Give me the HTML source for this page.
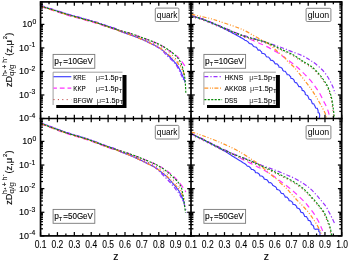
<!DOCTYPE html>
<html><head><meta charset="utf-8"><title>chart</title>
<style>html,body{margin:0;padding:0;background:#fff;}body{width:349px;height:264px;overflow:hidden;position:relative;font-family:"Liberation Sans",sans-serif;}</style></head>
<body>
<svg width="349" height="264" viewBox="0 0 349 264" style="position:absolute;left:0;top:0;font-family:'Liberation Sans',sans-serif;will-change:transform;opacity:0.999" shape-rendering="auto">
<rect width="349" height="264" fill="#fff"/>
<defs><clipPath id="cTL"><rect x="40.55" y="1.9" width="150.45" height="116.6"/></clipPath><clipPath id="cTR"><rect x="191.0" y="1.9" width="150.7" height="116.6"/></clipPath><clipPath id="cBL"><rect x="40.55" y="118.5" width="150.45" height="117.4"/></clipPath><clipPath id="cBR"><rect x="191.0" y="118.5" width="150.7" height="117.4"/></clipPath></defs>
<g clip-path="url(#cTL)" fill="none" stroke-linecap="butt" stroke-linejoin="round"><path d="M40.60,5.75 C42.55,6.37 47.95,8.07 52.30,9.45 C56.65,10.83 61.92,12.62 66.70,14.05 C71.48,15.48 77.45,17.05 81.00,18.05 C84.55,19.05 85.42,19.32 88.00,20.05 C90.58,20.78 93.18,21.40 96.50,22.45 C99.82,23.50 104.82,25.32 107.90,26.35 C110.98,27.38 112.98,27.84 115.00,28.65 C117.02,29.46 117.25,30.11 120.00,31.20 C122.75,32.29 127.68,33.77 131.50,35.20 C135.32,36.63 139.45,38.30 142.90,39.80 C146.35,41.30 149.22,42.68 152.20,44.20 C155.18,45.72 158.18,47.10 160.80,48.90 C163.42,50.70 165.65,52.85 167.90,55.00 C170.15,57.15 172.88,60.27 174.30,61.80 C175.72,63.33 175.40,62.75 176.40,64.20 C177.40,65.65 179.17,68.32 180.30,70.50 C181.43,72.68 182.37,75.38 183.20,77.30 C184.03,79.22 184.95,81.22 185.30,82.00" stroke="#3c3cff" stroke-width="1.15"/><path d="M40.60,6.55 C42.55,7.17 47.95,8.87 52.30,10.25 C56.65,11.63 61.92,13.42 66.70,14.85 C71.48,16.28 77.45,17.85 81.00,18.85 C84.55,19.85 85.42,20.12 88.00,20.85 C90.58,21.58 93.18,22.20 96.50,23.25 C99.82,24.30 104.82,26.12 107.90,27.15 C110.98,28.18 112.98,28.89 115.00,29.45 C117.02,30.01 117.25,29.79 120.00,30.50 C122.75,31.21 127.68,32.47 131.50,33.70 C135.32,34.93 139.45,36.62 142.90,37.90 C146.35,39.18 149.22,40.22 152.20,41.40 C155.18,42.58 157.92,43.38 160.80,45.00 C163.68,46.62 166.90,49.32 169.50,51.10 C172.10,52.88 174.32,53.90 176.40,55.70 C178.48,57.50 180.40,59.92 182.00,61.90 C183.60,63.88 185.33,66.65 186.00,67.60" stroke="#ff33ff" stroke-width="1.2" stroke-dasharray="5.3 3.7"/><path d="M40.60,6.35 C42.55,6.97 47.95,8.67 52.30,10.05 C56.65,11.43 61.92,13.22 66.70,14.65 C71.48,16.08 77.45,17.65 81.00,18.65 C84.55,19.65 85.42,19.92 88.00,20.65 C90.58,21.38 93.18,22.00 96.50,23.05 C99.82,24.10 104.82,25.92 107.90,26.95 C110.98,27.98 112.98,28.59 115.00,29.25 C117.02,29.91 117.25,30.01 120.00,30.90 C122.75,31.79 127.68,33.25 131.50,34.60 C135.32,35.95 139.45,37.60 142.90,39.00 C146.35,40.40 149.22,41.73 152.20,43.00 C155.18,44.27 157.67,44.77 160.80,46.60 C163.93,48.43 168.13,51.52 171.00,54.00 C173.87,56.48 176.17,59.08 178.00,61.50 C179.83,63.92 180.97,66.08 182.00,68.50 C183.03,70.92 183.83,74.75 184.20,76.00" stroke="#b01818" stroke-width="0.9" stroke-dasharray="1 3.4"/><path d="M40.60,5.45 C42.55,6.07 47.95,7.77 52.30,9.15 C56.65,10.53 61.92,12.32 66.70,13.75 C71.48,15.18 77.45,16.75 81.00,17.75 C84.55,18.75 85.42,19.02 88.00,19.75 C90.58,20.48 93.18,21.10 96.50,22.15 C99.82,23.20 104.82,25.02 107.90,26.05 C110.98,27.08 112.98,27.49 115.00,28.35 C117.02,29.21 117.25,30.06 120.00,31.20 C122.75,32.34 127.68,33.77 131.50,35.20 C135.32,36.63 139.45,38.30 142.90,39.80 C146.35,41.30 149.22,42.63 152.20,44.20 C155.18,45.77 158.67,47.63 160.80,49.20 C162.93,50.77 163.17,51.77 165.00,53.60 C166.83,55.43 169.90,58.25 171.80,60.20 C173.70,62.15 174.98,63.22 176.40,65.30 C177.82,67.38 179.27,70.62 180.30,72.70 C181.33,74.78 181.85,76.17 182.60,77.80 C183.35,79.43 184.43,81.72 184.80,82.50" stroke="#9933ff" stroke-width="1.2" stroke-dasharray="4.2 2 1.2 2"/><path d="M40.60,6.20 C42.55,6.82 47.95,8.52 52.30,9.90 C56.65,11.28 61.92,13.07 66.70,14.50 C71.48,15.93 77.45,17.50 81.00,18.50 C84.55,19.50 85.42,19.77 88.00,20.50 C90.58,21.23 93.18,21.85 96.50,22.90 C99.82,23.95 104.82,25.77 107.90,26.80 C110.98,27.83 112.98,28.37 115.00,29.10 C117.02,29.83 117.25,30.18 120.00,31.20 C122.75,32.22 127.68,33.77 131.50,35.20 C135.32,36.63 139.45,38.30 142.90,39.80 C146.35,41.30 149.22,42.73 152.20,44.20 C155.18,45.67 158.67,47.30 160.80,48.60 C162.93,49.90 163.35,50.72 165.00,52.00 C166.65,53.28 168.80,54.73 170.70,56.30 C172.60,57.87 174.52,59.23 176.40,61.40 C178.28,63.57 180.58,66.93 182.00,69.30 C183.42,71.67 184.42,74.55 184.90,75.60" stroke="#ff9426" stroke-width="1.2" stroke-dasharray="4 1.8 1 1.8 1 1.8"/><path d="M40.60,6.00 C42.55,6.62 47.95,8.32 52.30,9.70 C56.65,11.08 61.92,12.87 66.70,14.30 C71.48,15.73 77.45,17.30 81.00,18.30 C84.55,19.30 85.42,19.57 88.00,20.30 C90.58,21.03 93.18,21.65 96.50,22.70 C99.82,23.75 104.82,25.57 107.90,26.60 C110.98,27.63 112.98,28.25 115.00,28.90 C117.02,29.55 117.25,29.70 120.00,30.50 C122.75,31.30 127.68,32.47 131.50,33.70 C135.32,34.93 139.45,36.62 142.90,37.90 C146.35,39.18 149.22,40.18 152.20,41.40 C155.18,42.62 157.53,43.38 160.80,45.20 C164.07,47.02 168.83,49.98 171.80,52.30 C174.77,54.62 176.90,56.83 178.60,59.10 C180.30,61.37 181.13,63.63 182.00,65.90 C182.87,68.17 183.32,70.52 183.80,72.70 C184.28,74.88 184.62,76.78 184.90,79.00 C185.18,81.22 185.35,83.67 185.50,86.00 C185.65,88.33 185.75,91.83 185.80,93.00" stroke="#0a8a0a" stroke-width="1.15" stroke-dasharray="2.1 1.4"/></g>
<g clip-path="url(#cTR)" fill="none" stroke-linecap="butt" stroke-linejoin="round"><path d="M191.40,15.90 L192.09,16.10 L192.95,16.34 L193.96,16.61 L195.11,16.93 L196.37,17.29 L197.73,17.70 L199.16,18.15 L200.66,18.65 L202.20,19.20 L203.16,19.56 L204.17,19.94 L205.23,20.35 L206.33,20.77 L207.46,21.22 L208.62,21.68 L209.80,22.16 L211.00,22.65 L212.21,23.15 L213.43,23.66 L214.65,24.18 L215.86,24.70 L217.06,25.23 L218.24,25.77 L219.40,26.30 L220.49,26.81 L221.61,27.35 L222.75,27.92 L223.91,28.49 L225.07,29.09 L226.24,29.69 L227.40,30.29 L228.55,30.89 L229.68,31.49 L230.79,32.08 L231.87,32.66 L232.92,33.22 L233.92,33.76 L234.87,34.27 L235.77,34.75 L236.60,35.20 L238.09,36.01 L239.40,36.72 L240.53,37.38 L241.60,37.91 L242.52,38.45 L243.39,38.95 L244.14,39.53 L244.81,40.19 L246.34,40.63 L247.31,41.34 L248.21,41.97 L248.80,42.92 L249.81,43.59 L251.37,43.88 L252.37,44.79 L253.15,45.96 L254.31,46.78 L256.04,47.06 L256.84,47.96 L257.49,49.03 L258.13,50.14 L259.92,50.09 L260.71,51.05 L261.62,51.88 L261.91,53.32 L263.47,53.47 L264.66,54.00 L265.49,54.88 L266.01,56.07 L266.80,57.00 L268.52,57.00 L269.26,57.97 L270.15,58.80 L270.43,60.22 L272.04,60.33 L273.18,60.92 L274.03,61.76 L274.54,62.90 L275.29,63.81 L277.04,63.76 L277.83,64.75 L278.74,65.76 L278.96,67.10 L280.48,67.25 L281.58,67.90 L282.39,68.86 L282.78,70.26 L283.71,71.08 L285.25,71.24 L285.86,72.24 L286.72,73.38 L287.21,74.77 L289.02,74.78 L289.80,75.80 L290.67,76.75 L290.93,78.37 L292.47,78.53 L293.43,79.32 L294.20,80.34 L294.46,81.85 L295.42,82.63 L296.82,82.91 L297.36,83.94 L298.15,85.19 L298.71,86.56 L300.47,86.61 L301.16,87.65 L301.93,88.57 L302.10,90.32 L303.56,90.61 L304.38,91.57 L305.16,92.84 L305.23,94.34 L306.28,94.98 L307.56,95.47 L308.19,96.67 L308.61,98.08 L309.21,99.29 L310.76,99.57 L311.34,100.87 L311.88,102.23 L312.29,103.67 L313.87,103.88 L314.37,105.03 L315.12,106.52 L315.65,108.04 L317.28,108.31 L317.76,109.64 L318.15,110.99 L318.08,112.67 L319.27,113.01 L319.53,114.17 L319.71,115.85 L319.24,118.00 L320.08,118.32" stroke="#3c3cff" stroke-width="1.15"/><path d="M191.40,15.60 C193.20,16.13 197.53,17.10 202.20,18.80 C206.87,20.50 213.67,23.40 219.40,25.80 C225.13,28.20 232.33,31.37 236.60,33.20 C240.87,35.03 241.82,35.38 245.00,36.80 C248.18,38.22 252.57,40.30 255.70,41.70 C258.83,43.10 261.32,44.05 263.80,45.20 C266.28,46.35 268.32,47.37 270.60,48.60 C272.88,49.83 275.43,51.30 277.50,52.60 C279.57,53.90 281.15,55.07 283.00,56.40 C284.85,57.73 286.62,59.13 288.60,60.60 C290.58,62.07 292.90,63.58 294.90,65.20 C296.90,66.82 298.68,68.50 300.60,70.30 C302.52,72.10 304.48,74.00 306.40,76.00 C308.32,78.00 310.52,80.37 312.10,82.30 C313.68,84.23 314.60,85.70 315.90,87.60 C317.20,89.50 318.67,91.53 319.90,93.70 C321.13,95.87 322.15,98.30 323.30,100.60 C324.45,102.90 325.83,105.20 326.80,107.50 C327.77,109.80 328.60,112.57 329.10,114.40 C329.60,116.23 329.68,117.82 329.80,118.50" stroke="#ff33ff" stroke-width="1.2" stroke-dasharray="5.3 3.7"/><path d="M190.90,16.70 C192.70,17.23 197.03,18.20 201.70,19.90 C206.37,21.60 213.17,24.50 218.90,26.90 C224.63,29.30 231.83,32.57 236.10,34.30 C240.37,36.03 241.07,36.23 244.50,37.30 C247.93,38.37 253.38,39.78 256.70,40.70 C260.02,41.62 261.78,41.90 264.40,42.80 C267.02,43.70 269.53,44.80 272.40,46.10 C275.27,47.40 278.75,49.27 281.60,50.60 C284.45,51.93 287.18,52.95 289.50,54.10 C291.82,55.25 293.53,56.27 295.50,57.50 C297.47,58.73 299.80,60.50 301.30,61.50 C302.80,62.50 303.02,62.60 304.50,63.50 C305.98,64.40 308.28,65.47 310.20,66.90 C312.12,68.33 314.08,70.10 316.00,72.10 C317.92,74.10 319.98,76.62 321.70,78.90 C323.42,81.18 325.15,83.78 326.30,85.80 C327.45,87.82 327.93,89.33 328.60,91.00 C329.27,92.67 329.77,93.85 330.30,95.80 C330.83,97.75 331.37,100.22 331.80,102.70 C332.23,105.18 332.58,108.32 332.90,110.70 C333.22,113.08 333.53,115.55 333.70,117.00 C333.87,118.45 333.87,119.00 333.90,119.40" stroke="#b01818" stroke-width="0.9" stroke-dasharray="1 3.4"/><path d="M191.40,15.70 C193.20,16.23 197.53,17.20 202.20,18.90 C206.87,20.60 213.67,23.55 219.40,25.90 C225.13,28.25 232.33,31.35 236.60,33.00 C240.87,34.65 241.57,34.70 245.00,35.80 C248.43,36.90 252.55,38.13 257.20,39.60 C261.85,41.07 268.37,43.10 272.90,44.60 C277.43,46.10 281.55,47.55 284.40,48.60 C287.25,49.65 286.90,49.67 290.00,50.90 C293.10,52.13 299.70,54.48 303.00,56.00 C306.30,57.52 308.13,59.00 309.80,60.00 C311.47,61.00 311.50,60.90 313.00,62.00 C314.50,63.10 316.88,64.88 318.80,66.60 C320.72,68.32 322.78,70.20 324.50,72.30 C326.22,74.40 327.77,76.90 329.10,79.20 C330.43,81.50 331.65,84.18 332.50,86.10 C333.35,88.02 333.72,89.45 334.20,90.70 C334.68,91.95 335.20,93.12 335.40,93.60" stroke="#9933ff" stroke-width="1.2" stroke-dasharray="4.2 2 1.2 2"/><path d="M191.40,14.30 C192.83,14.62 196.90,15.50 200.00,16.20 C203.10,16.90 206.77,17.63 210.00,18.50 C213.23,19.37 214.97,19.95 219.40,21.40 C223.83,22.85 232.33,25.63 236.60,27.20 C240.87,28.77 242.10,29.37 245.00,30.80 C247.90,32.23 251.25,34.27 254.00,35.80 C256.75,37.33 259.30,38.82 261.50,40.00 C263.70,41.18 265.30,41.67 267.20,42.90 C269.10,44.13 270.98,45.78 272.90,47.40 C274.82,49.02 276.78,50.97 278.70,52.60 C280.62,54.23 282.85,55.68 284.40,57.20 C285.95,58.72 286.43,60.08 288.00,61.70 C289.57,63.32 291.88,64.88 293.80,66.90 C295.72,68.92 297.60,71.42 299.50,73.80 C301.40,76.18 303.27,78.68 305.20,81.20 C307.13,83.72 309.42,86.53 311.10,88.90 C312.78,91.27 313.93,93.17 315.30,95.40 C316.67,97.63 318.05,100.10 319.30,102.30 C320.55,104.50 321.75,106.58 322.80,108.60 C323.85,110.62 325.00,112.75 325.60,114.40 C326.20,116.05 326.27,117.82 326.40,118.50" stroke="#ff9426" stroke-width="1.2" stroke-dasharray="4 1.8 1 1.8 1 1.8"/><path d="M191.40,15.80 C193.20,16.33 197.53,17.30 202.20,19.00 C206.87,20.70 213.67,23.60 219.40,26.00 C225.13,28.40 232.33,31.67 236.60,33.40 C240.87,35.13 241.57,35.33 245.00,36.40 C248.43,37.47 253.88,38.88 257.20,39.80 C260.52,40.72 262.28,41.00 264.90,41.90 C267.52,42.80 270.03,43.90 272.90,45.20 C275.77,46.50 279.25,48.37 282.10,49.70 C284.95,51.03 287.68,52.05 290.00,53.20 C292.32,54.35 294.03,55.37 296.00,56.60 C297.97,57.83 300.30,59.60 301.80,60.60 C303.30,61.60 303.52,61.70 305.00,62.60 C306.48,63.50 308.78,64.57 310.70,66.00 C312.62,67.43 314.58,69.20 316.50,71.20 C318.42,73.20 320.48,75.72 322.20,78.00 C323.92,80.28 325.65,82.88 326.80,84.90 C327.95,86.92 328.43,88.43 329.10,90.10 C329.77,91.77 330.27,92.95 330.80,94.90 C331.33,96.85 331.87,99.32 332.30,101.80 C332.73,104.28 333.08,107.42 333.40,109.80 C333.72,112.18 334.03,114.65 334.20,116.10 C334.37,117.55 334.37,118.10 334.40,118.50" stroke="#0a8a0a" stroke-width="1.15" stroke-dasharray="2.1 1.4"/></g>
<g clip-path="url(#cBL)" fill="none" stroke-linecap="butt" stroke-linejoin="round"><path d="M40.60,123.05 C42.55,123.78 47.95,125.83 52.30,127.45 C56.65,129.07 61.92,131.15 66.70,132.75 C71.48,134.35 77.45,135.97 81.00,137.05 C84.55,138.13 85.42,138.37 88.00,139.25 C90.58,140.13 93.18,141.12 96.50,142.35 C99.82,143.58 104.82,145.55 107.90,146.65 C110.98,147.75 112.98,148.14 115.00,148.95 C117.02,149.76 117.25,150.32 120.00,151.50 C122.75,152.68 127.68,154.37 131.50,156.00 C135.32,157.63 139.08,159.45 142.90,161.30 C146.72,163.15 151.43,165.38 154.40,167.10 C157.37,168.82 158.68,170.05 160.70,171.60 C162.72,173.15 164.58,174.57 166.50,176.40 C168.42,178.23 170.30,180.42 172.20,182.60 C174.10,184.78 176.52,187.60 177.90,189.50 C179.28,191.40 179.40,191.75 180.50,194.00 C181.60,196.25 183.83,201.50 184.50,203.00" stroke="#3c3cff" stroke-width="1.15"/><path d="M40.60,123.85 C42.55,124.58 47.95,126.63 52.30,128.25 C56.65,129.87 61.92,131.95 66.70,133.55 C71.48,135.15 77.45,136.77 81.00,137.85 C84.55,138.93 85.42,139.17 88.00,140.05 C90.58,140.93 93.18,141.92 96.50,143.15 C99.82,144.38 104.82,146.35 107.90,147.45 C110.98,148.55 112.98,149.21 115.00,149.75 C117.02,150.29 117.25,149.91 120.00,150.70 C122.75,151.49 127.68,153.13 131.50,154.50 C135.32,155.87 139.08,157.35 142.90,158.90 C146.72,160.45 151.43,162.48 154.40,163.80 C157.37,165.12 158.68,165.67 160.70,166.80 C162.72,167.93 164.58,169.20 166.50,170.60 C168.42,172.00 170.30,173.48 172.20,175.20 C174.10,176.92 175.98,178.70 177.90,180.90 C179.82,183.10 182.38,186.55 183.70,188.40 C185.02,190.25 185.45,191.40 185.80,192.00" stroke="#ff33ff" stroke-width="1.2" stroke-dasharray="5.3 3.7"/><path d="M40.60,123.65 C42.55,124.38 47.95,126.43 52.30,128.05 C56.65,129.67 61.92,131.75 66.70,133.35 C71.48,134.95 77.45,136.57 81.00,137.65 C84.55,138.73 85.42,138.97 88.00,139.85 C90.58,140.73 93.18,141.72 96.50,142.95 C99.82,144.18 104.82,146.15 107.90,147.25 C110.98,148.35 112.98,148.91 115.00,149.55 C117.02,150.19 117.25,150.14 120.00,151.10 C122.75,152.06 127.68,153.78 131.50,155.30 C135.32,156.82 139.08,158.48 142.90,160.20 C146.72,161.92 151.43,164.10 154.40,165.60 C157.37,167.10 158.68,167.88 160.70,169.20 C162.72,170.52 164.58,171.88 166.50,173.50 C168.42,175.12 170.30,176.98 172.20,178.90 C174.10,180.82 176.43,183.07 177.90,185.00 C179.37,186.93 179.98,188.17 181.00,190.50 C182.02,192.83 183.50,197.58 184.00,199.00" stroke="#b01818" stroke-width="0.9" stroke-dasharray="1 3.4"/><path d="M40.60,122.75 C42.55,123.48 47.95,125.53 52.30,127.15 C56.65,128.77 61.92,130.85 66.70,132.45 C71.48,134.05 77.45,135.67 81.00,136.75 C84.55,137.83 85.42,138.07 88.00,138.95 C90.58,139.83 93.18,140.82 96.50,142.05 C99.82,143.28 104.82,145.25 107.90,146.35 C110.98,147.45 112.98,147.79 115.00,148.65 C117.02,149.51 117.25,150.28 120.00,151.50 C122.75,152.72 127.68,154.37 131.50,156.00 C135.32,157.63 139.08,159.45 142.90,161.30 C146.72,163.15 151.43,165.18 154.40,167.10 C157.37,169.02 158.68,170.88 160.70,172.80 C162.72,174.72 164.58,176.58 166.50,178.60 C168.42,180.62 170.48,182.88 172.20,184.90 C173.92,186.92 175.57,189.10 176.80,190.70 C178.03,192.30 178.42,192.45 179.60,194.50 C180.78,196.55 182.77,199.97 183.90,203.00 C185.03,206.03 185.98,211.08 186.40,212.70" stroke="#9933ff" stroke-width="1.2" stroke-dasharray="4.2 2 1.2 2"/><path d="M40.60,123.50 C42.55,124.23 47.95,126.28 52.30,127.90 C56.65,129.52 61.92,131.60 66.70,133.20 C71.48,134.80 77.45,136.42 81.00,137.50 C84.55,138.58 85.42,138.82 88.00,139.70 C90.58,140.58 93.18,141.57 96.50,142.80 C99.82,144.03 104.82,146.00 107.90,147.10 C110.98,148.20 112.98,148.67 115.00,149.40 C117.02,150.13 117.25,150.40 120.00,151.50 C122.75,152.60 127.68,154.37 131.50,156.00 C135.32,157.63 139.08,159.45 142.90,161.30 C146.72,163.15 151.43,165.45 154.40,167.10 C157.37,168.75 158.68,169.75 160.70,171.20 C162.72,172.65 164.58,174.08 166.50,175.80 C168.42,177.52 170.30,179.50 172.20,181.50 C174.10,183.50 176.38,185.93 177.90,187.80 C179.42,189.67 180.10,190.50 181.30,192.70 C182.50,194.90 184.47,199.62 185.10,201.00" stroke="#ff9426" stroke-width="1.2" stroke-dasharray="4 1.8 1 1.8 1 1.8"/><path d="M40.60,123.30 C42.55,124.03 47.95,126.08 52.30,127.70 C56.65,129.32 61.92,131.40 66.70,133.00 C71.48,134.60 77.45,136.22 81.00,137.30 C84.55,138.38 85.42,138.62 88.00,139.50 C90.58,140.38 93.18,141.37 96.50,142.60 C99.82,143.83 104.82,145.80 107.90,146.90 C110.98,148.00 112.98,148.57 115.00,149.20 C117.02,149.83 117.25,149.82 120.00,150.70 C122.75,151.58 127.68,153.13 131.50,154.50 C135.32,155.87 139.08,157.35 142.90,158.90 C146.72,160.45 151.43,162.42 154.40,163.80 C157.37,165.18 158.68,165.97 160.70,167.20 C162.72,168.43 164.58,169.68 166.50,171.20 C168.42,172.72 170.30,174.50 172.20,176.30 C174.10,178.10 176.37,180.08 177.90,182.00 C179.43,183.92 180.52,185.37 181.40,187.80 C182.28,190.23 182.68,193.63 183.20,196.60 C183.72,199.57 184.12,202.92 184.50,205.60 C184.88,208.28 185.33,211.52 185.50,212.70" stroke="#0a8a0a" stroke-width="1.15" stroke-dasharray="2.1 1.4"/></g>
<g clip-path="url(#cBR)" fill="none" stroke-linecap="butt" stroke-linejoin="round"><path d="M191.40,134.00 L192.01,134.30 L192.77,134.66 L193.64,135.09 L194.64,135.57 L195.72,136.09 L196.90,136.67 L198.15,137.28 L199.46,137.92 L200.81,138.60 L202.20,139.30 L203.12,139.77 L204.11,140.27 L205.17,140.82 L206.29,141.39 L207.44,141.98 L208.63,142.59 L209.83,143.21 L211.03,143.83 L212.23,144.45 L213.41,145.06 L214.56,145.66 L215.66,146.24 L216.71,146.78 L217.69,147.30 L218.59,147.77 L219.40,148.20 L221.17,149.15 L222.53,149.89 L223.61,150.49 L224.54,151.03 L225.46,151.57 L226.50,152.20 L227.58,152.87 L228.59,153.53 L229.59,154.19 L230.63,154.89 L231.78,155.65 L233.10,156.50 L234.01,157.07 L235.02,157.69 L236.09,158.35 L237.22,159.03 L238.36,159.73 L239.51,160.43 L240.64,161.11 L241.71,161.77 L242.60,162.51 L243.58,163.02 L244.93,163.74 L245.92,164.45 L246.64,165.27 L247.40,166.08 L248.90,166.41 L250.11,167.49 L250.85,168.23 L251.34,169.36 L252.95,169.47 L254.01,170.22 L255.05,171.06 L255.45,172.60 L257.29,172.71 L258.44,173.52 L259.48,174.43 L259.88,175.96 L261.70,176.00 L262.71,176.69 L263.64,177.50 L264.05,178.85 L265.29,179.38 L266.83,179.62 L267.65,180.57 L268.34,181.61 L268.92,182.74 L270.67,182.65 L271.46,183.46 L272.29,184.16 L272.65,185.25 L274.09,186.11 L275.55,186.78 L276.50,187.79 L276.80,189.35 L278.14,189.79 L279.43,190.24 L280.18,191.22 L280.76,192.61 L281.69,193.53 L283.31,193.69 L284.01,194.74 L284.76,195.74 L285.15,197.15 L286.97,197.17 L287.81,198.17 L288.72,199.12 L289.01,200.69 L290.73,200.82 L291.73,201.67 L292.66,202.66 L292.96,204.33 L294.73,204.55 L295.73,205.46 L296.59,206.36 L296.81,207.69 L298.26,208.38 L299.34,208.84 L300.19,210.11 L300.53,211.29 L301.12,212.43 L302.83,212.60 L303.55,213.83 L304.22,215.11 L304.73,216.47 L306.45,216.60 L307.14,217.79 L307.88,218.93 L308.20,220.46 L309.86,220.57 L310.51,221.59 L311.23,222.76 L311.23,224.57 L312.47,225.02 L313.29,225.75 L313.67,226.73 L314.10,228.75 L315.35,229.35 L317.41,229.05 L318.84,229.36 L318.77,231.47 L319.97,232.33 L320.04,234.37 L319.47,236.53" stroke="#3c3cff" stroke-width="1.15"/><path d="M191.40,133.70 C193.20,134.55 197.53,136.52 202.20,138.80 C206.87,141.08 215.35,145.38 219.40,147.40 C223.45,149.42 223.90,149.63 226.50,150.90 C229.10,152.17 231.92,153.40 235.00,155.00 C238.08,156.60 241.93,158.88 245.00,160.50 C248.07,162.12 250.65,163.32 253.40,164.70 C256.15,166.08 259.02,167.45 261.50,168.80 C263.98,170.15 266.02,171.38 268.30,172.80 C270.58,174.22 273.25,175.95 275.20,177.30 C277.15,178.65 278.05,179.45 280.00,180.90 C281.95,182.35 284.80,184.38 286.90,186.00 C289.00,187.62 290.70,188.97 292.60,190.60 C294.50,192.23 296.38,193.98 298.30,195.80 C300.22,197.62 302.55,199.88 304.10,201.50 C305.65,203.12 306.13,203.73 307.60,205.50 C309.07,207.27 311.17,209.60 312.90,212.10 C314.63,214.60 316.50,217.70 318.00,220.50 C319.50,223.30 320.87,226.32 321.90,228.90 C322.93,231.48 323.82,234.82 324.20,236.00" stroke="#ff33ff" stroke-width="1.2" stroke-dasharray="5.3 3.7"/><path d="M190.90,134.80 C192.70,135.65 197.03,137.58 201.70,139.90 C206.37,142.22 214.85,146.68 218.90,148.70 C222.95,150.72 223.40,150.82 226.00,152.00 C228.60,153.18 230.58,154.20 234.50,155.80 C238.42,157.40 245.08,159.77 249.50,161.60 C253.92,163.43 257.18,165.08 261.00,166.80 C264.82,168.52 268.58,170.08 272.40,171.90 C276.22,173.72 281.57,176.53 283.90,177.70 C286.23,178.87 284.65,177.93 286.40,178.90 C288.15,179.87 291.73,181.78 294.40,183.50 C297.07,185.22 299.92,187.10 302.40,189.20 C304.88,191.30 307.20,193.90 309.30,196.10 C311.40,198.30 313.42,200.57 315.00,202.40 C316.58,204.23 317.40,205.33 318.80,207.10 C320.20,208.87 322.00,210.62 323.40,213.00 C324.80,215.38 326.13,218.72 327.20,221.40 C328.27,224.08 329.15,226.52 329.80,229.10 C330.45,231.68 330.88,235.60 331.10,236.90" stroke="#b01818" stroke-width="0.9" stroke-dasharray="1 3.4"/><path d="M191.40,133.80 C193.20,134.65 197.53,136.60 202.20,138.90 C206.87,141.20 215.35,145.62 219.40,147.60 C223.45,149.58 223.90,149.63 226.50,150.80 C229.10,151.97 231.08,153.00 235.00,154.60 C238.92,156.20 245.58,158.62 250.00,160.40 C254.42,162.18 257.68,163.82 261.50,165.30 C265.32,166.78 269.08,167.87 272.90,169.30 C276.72,170.73 280.92,172.45 284.40,173.90 C287.88,175.35 290.72,176.45 293.80,178.00 C296.88,179.55 300.23,181.48 302.90,183.20 C305.57,184.92 307.70,186.50 309.80,188.30 C311.90,190.10 313.80,192.18 315.50,194.00 C317.20,195.82 318.28,197.15 320.00,199.20 C321.72,201.25 324.18,203.93 325.80,206.30 C327.42,208.67 328.52,211.15 329.70,213.40 C330.88,215.65 332.00,217.98 332.90,219.80 C333.80,221.62 334.73,223.55 335.10,224.30" stroke="#9933ff" stroke-width="1.2" stroke-dasharray="4.2 2 1.2 2"/><path d="M191.40,132.10 C193.20,132.67 197.53,133.83 202.20,135.50 C206.87,137.17 213.93,139.80 219.40,142.10 C224.87,144.40 231.07,147.35 235.00,149.30 C238.93,151.25 240.50,152.28 243.00,153.80 C245.50,155.32 247.88,157.05 250.00,158.40 C252.12,159.75 253.78,160.55 255.70,161.90 C257.62,163.25 259.58,164.88 261.50,166.50 C263.42,168.12 265.30,169.98 267.20,171.60 C269.10,173.22 270.98,174.67 272.90,176.20 C274.82,177.73 277.52,179.73 278.70,180.80 C279.88,181.87 278.83,181.45 280.00,182.60 C281.17,183.75 283.78,185.80 285.70,187.70 C287.62,189.60 289.58,191.90 291.50,194.00 C293.42,196.10 295.32,198.30 297.20,200.30 C299.08,202.30 301.05,204.15 302.80,206.00 C304.55,207.85 306.02,209.32 307.70,211.40 C309.38,213.48 311.28,216.13 312.90,218.50 C314.52,220.87 316.12,223.33 317.40,225.60 C318.68,227.87 319.88,230.37 320.60,232.10 C321.32,233.83 321.52,235.35 321.70,236.00" stroke="#ff9426" stroke-width="1.2" stroke-dasharray="4 1.8 1 1.8 1 1.8"/><path d="M191.40,133.90 C193.20,134.75 197.53,136.68 202.20,139.00 C206.87,141.32 215.35,145.78 219.40,147.80 C223.45,149.82 223.90,149.92 226.50,151.10 C229.10,152.28 231.08,153.30 235.00,154.90 C238.92,156.50 245.58,158.87 250.00,160.70 C254.42,162.53 257.68,164.18 261.50,165.90 C265.32,167.62 269.08,169.18 272.90,171.00 C276.72,172.82 282.07,175.63 284.40,176.80 C286.73,177.97 285.15,177.03 286.90,178.00 C288.65,178.97 292.23,180.88 294.90,182.60 C297.57,184.32 300.42,186.20 302.90,188.30 C305.38,190.40 307.70,193.00 309.80,195.20 C311.90,197.40 313.92,199.67 315.50,201.50 C317.08,203.33 317.90,204.43 319.30,206.20 C320.70,207.97 322.50,209.72 323.90,212.10 C325.30,214.48 326.63,217.82 327.70,220.50 C328.77,223.18 329.65,225.62 330.30,228.20 C330.95,230.78 331.38,234.70 331.60,236.00" stroke="#0a8a0a" stroke-width="1.15" stroke-dasharray="2.1 1.4"/></g>
<g stroke="#000" stroke-width="1.7" fill="none" stroke-linecap="square">
<rect x="40.55" y="1.9" width="301.15" height="234.0"/>
<line x1="40.55" y1="118.5" x2="341.7" y2="118.5"/>
<line x1="191.0" y1="1.9" x2="191.0" y2="235.9" stroke-width="1.7"/>
</g>
<g stroke="#000" stroke-width="1.25" stroke-linecap="butt">
<line x1="40.55" y1="1.9" x2="40.55" y2="5.70"/>
<line x1="40.55" y1="114.70" x2="40.55" y2="122.30"/>
<line x1="40.55" y1="235.9" x2="40.55" y2="232.10"/>
<line x1="49.00" y1="1.9" x2="49.00" y2="4.30"/>
<line x1="49.00" y1="116.10" x2="49.00" y2="120.90"/>
<line x1="49.00" y1="235.9" x2="49.00" y2="233.50"/>
<line x1="57.44" y1="1.9" x2="57.44" y2="5.70"/>
<line x1="57.44" y1="114.70" x2="57.44" y2="122.30"/>
<line x1="57.44" y1="235.9" x2="57.44" y2="232.10"/>
<line x1="65.88" y1="1.9" x2="65.88" y2="4.30"/>
<line x1="65.88" y1="116.10" x2="65.88" y2="120.90"/>
<line x1="65.88" y1="235.9" x2="65.88" y2="233.50"/>
<line x1="74.33" y1="1.9" x2="74.33" y2="5.70"/>
<line x1="74.33" y1="114.70" x2="74.33" y2="122.30"/>
<line x1="74.33" y1="235.9" x2="74.33" y2="232.10"/>
<line x1="82.77" y1="1.9" x2="82.77" y2="4.30"/>
<line x1="82.77" y1="116.10" x2="82.77" y2="120.90"/>
<line x1="82.77" y1="235.9" x2="82.77" y2="233.50"/>
<line x1="91.22" y1="1.9" x2="91.22" y2="5.70"/>
<line x1="91.22" y1="114.70" x2="91.22" y2="122.30"/>
<line x1="91.22" y1="235.9" x2="91.22" y2="232.10"/>
<line x1="99.67" y1="1.9" x2="99.67" y2="4.30"/>
<line x1="99.67" y1="116.10" x2="99.67" y2="120.90"/>
<line x1="99.67" y1="235.9" x2="99.67" y2="233.50"/>
<line x1="108.11" y1="1.9" x2="108.11" y2="5.70"/>
<line x1="108.11" y1="114.70" x2="108.11" y2="122.30"/>
<line x1="108.11" y1="235.9" x2="108.11" y2="232.10"/>
<line x1="116.56" y1="1.9" x2="116.56" y2="4.30"/>
<line x1="116.56" y1="116.10" x2="116.56" y2="120.90"/>
<line x1="116.56" y1="235.9" x2="116.56" y2="233.50"/>
<line x1="125.00" y1="1.9" x2="125.00" y2="5.70"/>
<line x1="125.00" y1="114.70" x2="125.00" y2="122.30"/>
<line x1="125.00" y1="235.9" x2="125.00" y2="232.10"/>
<line x1="133.44" y1="1.9" x2="133.44" y2="4.30"/>
<line x1="133.44" y1="116.10" x2="133.44" y2="120.90"/>
<line x1="133.44" y1="235.9" x2="133.44" y2="233.50"/>
<line x1="141.89" y1="1.9" x2="141.89" y2="5.70"/>
<line x1="141.89" y1="114.70" x2="141.89" y2="122.30"/>
<line x1="141.89" y1="235.9" x2="141.89" y2="232.10"/>
<line x1="150.34" y1="1.9" x2="150.34" y2="4.30"/>
<line x1="150.34" y1="116.10" x2="150.34" y2="120.90"/>
<line x1="150.34" y1="235.9" x2="150.34" y2="233.50"/>
<line x1="158.78" y1="1.9" x2="158.78" y2="5.70"/>
<line x1="158.78" y1="114.70" x2="158.78" y2="122.30"/>
<line x1="158.78" y1="235.9" x2="158.78" y2="232.10"/>
<line x1="167.23" y1="1.9" x2="167.23" y2="4.30"/>
<line x1="167.23" y1="116.10" x2="167.23" y2="120.90"/>
<line x1="167.23" y1="235.9" x2="167.23" y2="233.50"/>
<line x1="175.67" y1="1.9" x2="175.67" y2="5.70"/>
<line x1="175.67" y1="114.70" x2="175.67" y2="122.30"/>
<line x1="175.67" y1="235.9" x2="175.67" y2="232.10"/>
<line x1="184.12" y1="1.9" x2="184.12" y2="4.30"/>
<line x1="184.12" y1="116.10" x2="184.12" y2="120.90"/>
<line x1="184.12" y1="235.9" x2="184.12" y2="233.50"/>
<line x1="191.00" y1="1.9" x2="191.00" y2="5.70"/>
<line x1="191.00" y1="114.70" x2="191.00" y2="122.30"/>
<line x1="191.00" y1="235.9" x2="191.00" y2="232.10"/>
<line x1="199.37" y1="1.9" x2="199.37" y2="4.30"/>
<line x1="199.37" y1="116.10" x2="199.37" y2="120.90"/>
<line x1="199.37" y1="235.9" x2="199.37" y2="233.50"/>
<line x1="207.74" y1="1.9" x2="207.74" y2="5.70"/>
<line x1="207.74" y1="114.70" x2="207.74" y2="122.30"/>
<line x1="207.74" y1="235.9" x2="207.74" y2="232.10"/>
<line x1="216.12" y1="1.9" x2="216.12" y2="4.30"/>
<line x1="216.12" y1="116.10" x2="216.12" y2="120.90"/>
<line x1="216.12" y1="235.9" x2="216.12" y2="233.50"/>
<line x1="224.49" y1="1.9" x2="224.49" y2="5.70"/>
<line x1="224.49" y1="114.70" x2="224.49" y2="122.30"/>
<line x1="224.49" y1="235.9" x2="224.49" y2="232.10"/>
<line x1="232.86" y1="1.9" x2="232.86" y2="4.30"/>
<line x1="232.86" y1="116.10" x2="232.86" y2="120.90"/>
<line x1="232.86" y1="235.9" x2="232.86" y2="233.50"/>
<line x1="241.23" y1="1.9" x2="241.23" y2="5.70"/>
<line x1="241.23" y1="114.70" x2="241.23" y2="122.30"/>
<line x1="241.23" y1="235.9" x2="241.23" y2="232.10"/>
<line x1="249.61" y1="1.9" x2="249.61" y2="4.30"/>
<line x1="249.61" y1="116.10" x2="249.61" y2="120.90"/>
<line x1="249.61" y1="235.9" x2="249.61" y2="233.50"/>
<line x1="257.98" y1="1.9" x2="257.98" y2="5.70"/>
<line x1="257.98" y1="114.70" x2="257.98" y2="122.30"/>
<line x1="257.98" y1="235.9" x2="257.98" y2="232.10"/>
<line x1="266.35" y1="1.9" x2="266.35" y2="4.30"/>
<line x1="266.35" y1="116.10" x2="266.35" y2="120.90"/>
<line x1="266.35" y1="235.9" x2="266.35" y2="233.50"/>
<line x1="274.72" y1="1.9" x2="274.72" y2="5.70"/>
<line x1="274.72" y1="114.70" x2="274.72" y2="122.30"/>
<line x1="274.72" y1="235.9" x2="274.72" y2="232.10"/>
<line x1="283.09" y1="1.9" x2="283.09" y2="4.30"/>
<line x1="283.09" y1="116.10" x2="283.09" y2="120.90"/>
<line x1="283.09" y1="235.9" x2="283.09" y2="233.50"/>
<line x1="291.47" y1="1.9" x2="291.47" y2="5.70"/>
<line x1="291.47" y1="114.70" x2="291.47" y2="122.30"/>
<line x1="291.47" y1="235.9" x2="291.47" y2="232.10"/>
<line x1="299.84" y1="1.9" x2="299.84" y2="4.30"/>
<line x1="299.84" y1="116.10" x2="299.84" y2="120.90"/>
<line x1="299.84" y1="235.9" x2="299.84" y2="233.50"/>
<line x1="308.21" y1="1.9" x2="308.21" y2="5.70"/>
<line x1="308.21" y1="114.70" x2="308.21" y2="122.30"/>
<line x1="308.21" y1="235.9" x2="308.21" y2="232.10"/>
<line x1="316.58" y1="1.9" x2="316.58" y2="4.30"/>
<line x1="316.58" y1="116.10" x2="316.58" y2="120.90"/>
<line x1="316.58" y1="235.9" x2="316.58" y2="233.50"/>
<line x1="324.96" y1="1.9" x2="324.96" y2="5.70"/>
<line x1="324.96" y1="114.70" x2="324.96" y2="122.30"/>
<line x1="324.96" y1="235.9" x2="324.96" y2="232.10"/>
<line x1="333.33" y1="1.9" x2="333.33" y2="4.30"/>
<line x1="333.33" y1="116.10" x2="333.33" y2="120.90"/>
<line x1="333.33" y1="235.9" x2="333.33" y2="233.50"/>
<line x1="341.70" y1="1.9" x2="341.70" y2="5.70"/>
<line x1="341.70" y1="114.70" x2="341.70" y2="122.30"/>
<line x1="341.70" y1="235.9" x2="341.70" y2="232.10"/>
<line x1="40.55" y1="118.50" x2="44.35" y2="118.50"/>
<line x1="187.20" y1="118.50" x2="194.80" y2="118.50"/>
<line x1="341.7" y1="118.50" x2="337.90" y2="118.50"/>
<line x1="40.55" y1="111.42" x2="42.95" y2="111.42"/>
<line x1="188.60" y1="111.42" x2="193.40" y2="111.42"/>
<line x1="341.7" y1="111.42" x2="339.30" y2="111.42"/>
<line x1="40.55" y1="107.28" x2="42.95" y2="107.28"/>
<line x1="188.60" y1="107.28" x2="193.40" y2="107.28"/>
<line x1="341.7" y1="107.28" x2="339.30" y2="107.28"/>
<line x1="40.55" y1="104.34" x2="42.95" y2="104.34"/>
<line x1="188.60" y1="104.34" x2="193.40" y2="104.34"/>
<line x1="341.7" y1="104.34" x2="339.30" y2="104.34"/>
<line x1="40.55" y1="102.06" x2="42.95" y2="102.06"/>
<line x1="188.60" y1="102.06" x2="193.40" y2="102.06"/>
<line x1="341.7" y1="102.06" x2="339.30" y2="102.06"/>
<line x1="40.55" y1="100.19" x2="42.95" y2="100.19"/>
<line x1="188.60" y1="100.19" x2="193.40" y2="100.19"/>
<line x1="341.7" y1="100.19" x2="339.30" y2="100.19"/>
<line x1="40.55" y1="98.62" x2="42.95" y2="98.62"/>
<line x1="188.60" y1="98.62" x2="193.40" y2="98.62"/>
<line x1="341.7" y1="98.62" x2="339.30" y2="98.62"/>
<line x1="40.55" y1="97.25" x2="42.95" y2="97.25"/>
<line x1="188.60" y1="97.25" x2="193.40" y2="97.25"/>
<line x1="341.7" y1="97.25" x2="339.30" y2="97.25"/>
<line x1="40.55" y1="96.05" x2="42.95" y2="96.05"/>
<line x1="188.60" y1="96.05" x2="193.40" y2="96.05"/>
<line x1="341.7" y1="96.05" x2="339.30" y2="96.05"/>
<line x1="40.55" y1="94.97" x2="44.35" y2="94.97"/>
<line x1="187.20" y1="94.97" x2="194.80" y2="94.97"/>
<line x1="341.7" y1="94.97" x2="337.90" y2="94.97"/>
<line x1="40.55" y1="87.89" x2="42.95" y2="87.89"/>
<line x1="188.60" y1="87.89" x2="193.40" y2="87.89"/>
<line x1="341.7" y1="87.89" x2="339.30" y2="87.89"/>
<line x1="40.55" y1="83.75" x2="42.95" y2="83.75"/>
<line x1="188.60" y1="83.75" x2="193.40" y2="83.75"/>
<line x1="341.7" y1="83.75" x2="339.30" y2="83.75"/>
<line x1="40.55" y1="80.81" x2="42.95" y2="80.81"/>
<line x1="188.60" y1="80.81" x2="193.40" y2="80.81"/>
<line x1="341.7" y1="80.81" x2="339.30" y2="80.81"/>
<line x1="40.55" y1="78.53" x2="42.95" y2="78.53"/>
<line x1="188.60" y1="78.53" x2="193.40" y2="78.53"/>
<line x1="341.7" y1="78.53" x2="339.30" y2="78.53"/>
<line x1="40.55" y1="76.67" x2="42.95" y2="76.67"/>
<line x1="188.60" y1="76.67" x2="193.40" y2="76.67"/>
<line x1="341.7" y1="76.67" x2="339.30" y2="76.67"/>
<line x1="40.55" y1="75.09" x2="42.95" y2="75.09"/>
<line x1="188.60" y1="75.09" x2="193.40" y2="75.09"/>
<line x1="341.7" y1="75.09" x2="339.30" y2="75.09"/>
<line x1="40.55" y1="73.73" x2="42.95" y2="73.73"/>
<line x1="188.60" y1="73.73" x2="193.40" y2="73.73"/>
<line x1="341.7" y1="73.73" x2="339.30" y2="73.73"/>
<line x1="40.55" y1="72.53" x2="42.95" y2="72.53"/>
<line x1="188.60" y1="72.53" x2="193.40" y2="72.53"/>
<line x1="341.7" y1="72.53" x2="339.30" y2="72.53"/>
<line x1="40.55" y1="71.45" x2="44.35" y2="71.45"/>
<line x1="187.20" y1="71.45" x2="194.80" y2="71.45"/>
<line x1="341.7" y1="71.45" x2="337.90" y2="71.45"/>
<line x1="40.55" y1="64.37" x2="42.95" y2="64.37"/>
<line x1="188.60" y1="64.37" x2="193.40" y2="64.37"/>
<line x1="341.7" y1="64.37" x2="339.30" y2="64.37"/>
<line x1="40.55" y1="60.23" x2="42.95" y2="60.23"/>
<line x1="188.60" y1="60.23" x2="193.40" y2="60.23"/>
<line x1="341.7" y1="60.23" x2="339.30" y2="60.23"/>
<line x1="40.55" y1="57.29" x2="42.95" y2="57.29"/>
<line x1="188.60" y1="57.29" x2="193.40" y2="57.29"/>
<line x1="341.7" y1="57.29" x2="339.30" y2="57.29"/>
<line x1="40.55" y1="55.01" x2="42.95" y2="55.01"/>
<line x1="188.60" y1="55.01" x2="193.40" y2="55.01"/>
<line x1="341.7" y1="55.01" x2="339.30" y2="55.01"/>
<line x1="40.55" y1="53.14" x2="42.95" y2="53.14"/>
<line x1="188.60" y1="53.14" x2="193.40" y2="53.14"/>
<line x1="341.7" y1="53.14" x2="339.30" y2="53.14"/>
<line x1="40.55" y1="51.57" x2="42.95" y2="51.57"/>
<line x1="188.60" y1="51.57" x2="193.40" y2="51.57"/>
<line x1="341.7" y1="51.57" x2="339.30" y2="51.57"/>
<line x1="40.55" y1="50.20" x2="42.95" y2="50.20"/>
<line x1="188.60" y1="50.20" x2="193.40" y2="50.20"/>
<line x1="341.7" y1="50.20" x2="339.30" y2="50.20"/>
<line x1="40.55" y1="49.00" x2="42.95" y2="49.00"/>
<line x1="188.60" y1="49.00" x2="193.40" y2="49.00"/>
<line x1="341.7" y1="49.00" x2="339.30" y2="49.00"/>
<line x1="40.55" y1="47.92" x2="44.35" y2="47.92"/>
<line x1="187.20" y1="47.92" x2="194.80" y2="47.92"/>
<line x1="341.7" y1="47.92" x2="337.90" y2="47.92"/>
<line x1="40.55" y1="40.84" x2="42.95" y2="40.84"/>
<line x1="188.60" y1="40.84" x2="193.40" y2="40.84"/>
<line x1="341.7" y1="40.84" x2="339.30" y2="40.84"/>
<line x1="40.55" y1="36.70" x2="42.95" y2="36.70"/>
<line x1="188.60" y1="36.70" x2="193.40" y2="36.70"/>
<line x1="341.7" y1="36.70" x2="339.30" y2="36.70"/>
<line x1="40.55" y1="33.76" x2="42.95" y2="33.76"/>
<line x1="188.60" y1="33.76" x2="193.40" y2="33.76"/>
<line x1="341.7" y1="33.76" x2="339.30" y2="33.76"/>
<line x1="40.55" y1="31.48" x2="42.95" y2="31.48"/>
<line x1="188.60" y1="31.48" x2="193.40" y2="31.48"/>
<line x1="341.7" y1="31.48" x2="339.30" y2="31.48"/>
<line x1="40.55" y1="29.62" x2="42.95" y2="29.62"/>
<line x1="188.60" y1="29.62" x2="193.40" y2="29.62"/>
<line x1="341.7" y1="29.62" x2="339.30" y2="29.62"/>
<line x1="40.55" y1="28.04" x2="42.95" y2="28.04"/>
<line x1="188.60" y1="28.04" x2="193.40" y2="28.04"/>
<line x1="341.7" y1="28.04" x2="339.30" y2="28.04"/>
<line x1="40.55" y1="26.68" x2="42.95" y2="26.68"/>
<line x1="188.60" y1="26.68" x2="193.40" y2="26.68"/>
<line x1="341.7" y1="26.68" x2="339.30" y2="26.68"/>
<line x1="40.55" y1="25.48" x2="42.95" y2="25.48"/>
<line x1="188.60" y1="25.48" x2="193.40" y2="25.48"/>
<line x1="341.7" y1="25.48" x2="339.30" y2="25.48"/>
<line x1="40.55" y1="24.40" x2="44.35" y2="24.40"/>
<line x1="187.20" y1="24.40" x2="194.80" y2="24.40"/>
<line x1="341.7" y1="24.40" x2="337.90" y2="24.40"/>
<line x1="40.55" y1="17.32" x2="42.95" y2="17.32"/>
<line x1="188.60" y1="17.32" x2="193.40" y2="17.32"/>
<line x1="341.7" y1="17.32" x2="339.30" y2="17.32"/>
<line x1="40.55" y1="13.18" x2="42.95" y2="13.18"/>
<line x1="188.60" y1="13.18" x2="193.40" y2="13.18"/>
<line x1="341.7" y1="13.18" x2="339.30" y2="13.18"/>
<line x1="40.55" y1="10.24" x2="42.95" y2="10.24"/>
<line x1="188.60" y1="10.24" x2="193.40" y2="10.24"/>
<line x1="341.7" y1="10.24" x2="339.30" y2="10.24"/>
<line x1="40.55" y1="7.96" x2="42.95" y2="7.96"/>
<line x1="188.60" y1="7.96" x2="193.40" y2="7.96"/>
<line x1="341.7" y1="7.96" x2="339.30" y2="7.96"/>
<line x1="40.55" y1="6.09" x2="42.95" y2="6.09"/>
<line x1="188.60" y1="6.09" x2="193.40" y2="6.09"/>
<line x1="341.7" y1="6.09" x2="339.30" y2="6.09"/>
<line x1="40.55" y1="4.52" x2="42.95" y2="4.52"/>
<line x1="188.60" y1="4.52" x2="193.40" y2="4.52"/>
<line x1="341.7" y1="4.52" x2="339.30" y2="4.52"/>
<line x1="40.55" y1="3.15" x2="42.95" y2="3.15"/>
<line x1="188.60" y1="3.15" x2="193.40" y2="3.15"/>
<line x1="341.7" y1="3.15" x2="339.30" y2="3.15"/>
<line x1="40.55" y1="1.95" x2="42.95" y2="1.95"/>
<line x1="188.60" y1="1.95" x2="193.40" y2="1.95"/>
<line x1="341.7" y1="1.95" x2="339.30" y2="1.95"/>
<line x1="40.55" y1="235.90" x2="44.35" y2="235.90"/>
<line x1="187.20" y1="235.90" x2="194.80" y2="235.90"/>
<line x1="341.7" y1="235.90" x2="337.90" y2="235.90"/>
<line x1="40.55" y1="228.79" x2="42.95" y2="228.79"/>
<line x1="188.60" y1="228.79" x2="193.40" y2="228.79"/>
<line x1="341.7" y1="228.79" x2="339.30" y2="228.79"/>
<line x1="40.55" y1="224.63" x2="42.95" y2="224.63"/>
<line x1="188.60" y1="224.63" x2="193.40" y2="224.63"/>
<line x1="341.7" y1="224.63" x2="339.30" y2="224.63"/>
<line x1="40.55" y1="221.68" x2="42.95" y2="221.68"/>
<line x1="188.60" y1="221.68" x2="193.40" y2="221.68"/>
<line x1="341.7" y1="221.68" x2="339.30" y2="221.68"/>
<line x1="40.55" y1="219.39" x2="42.95" y2="219.39"/>
<line x1="188.60" y1="219.39" x2="193.40" y2="219.39"/>
<line x1="341.7" y1="219.39" x2="339.30" y2="219.39"/>
<line x1="40.55" y1="217.52" x2="42.95" y2="217.52"/>
<line x1="188.60" y1="217.52" x2="193.40" y2="217.52"/>
<line x1="341.7" y1="217.52" x2="339.30" y2="217.52"/>
<line x1="40.55" y1="215.93" x2="42.95" y2="215.93"/>
<line x1="188.60" y1="215.93" x2="193.40" y2="215.93"/>
<line x1="341.7" y1="215.93" x2="339.30" y2="215.93"/>
<line x1="40.55" y1="214.56" x2="42.95" y2="214.56"/>
<line x1="188.60" y1="214.56" x2="193.40" y2="214.56"/>
<line x1="341.7" y1="214.56" x2="339.30" y2="214.56"/>
<line x1="40.55" y1="213.36" x2="42.95" y2="213.36"/>
<line x1="188.60" y1="213.36" x2="193.40" y2="213.36"/>
<line x1="341.7" y1="213.36" x2="339.30" y2="213.36"/>
<line x1="40.55" y1="212.28" x2="44.35" y2="212.28"/>
<line x1="187.20" y1="212.28" x2="194.80" y2="212.28"/>
<line x1="341.7" y1="212.28" x2="337.90" y2="212.28"/>
<line x1="40.55" y1="205.16" x2="42.95" y2="205.16"/>
<line x1="188.60" y1="205.16" x2="193.40" y2="205.16"/>
<line x1="341.7" y1="205.16" x2="339.30" y2="205.16"/>
<line x1="40.55" y1="201.00" x2="42.95" y2="201.00"/>
<line x1="188.60" y1="201.00" x2="193.40" y2="201.00"/>
<line x1="341.7" y1="201.00" x2="339.30" y2="201.00"/>
<line x1="40.55" y1="198.05" x2="42.95" y2="198.05"/>
<line x1="188.60" y1="198.05" x2="193.40" y2="198.05"/>
<line x1="341.7" y1="198.05" x2="339.30" y2="198.05"/>
<line x1="40.55" y1="195.76" x2="42.95" y2="195.76"/>
<line x1="188.60" y1="195.76" x2="193.40" y2="195.76"/>
<line x1="341.7" y1="195.76" x2="339.30" y2="195.76"/>
<line x1="40.55" y1="193.89" x2="42.95" y2="193.89"/>
<line x1="188.60" y1="193.89" x2="193.40" y2="193.89"/>
<line x1="341.7" y1="193.89" x2="339.30" y2="193.89"/>
<line x1="40.55" y1="192.31" x2="42.95" y2="192.31"/>
<line x1="188.60" y1="192.31" x2="193.40" y2="192.31"/>
<line x1="341.7" y1="192.31" x2="339.30" y2="192.31"/>
<line x1="40.55" y1="190.94" x2="42.95" y2="190.94"/>
<line x1="188.60" y1="190.94" x2="193.40" y2="190.94"/>
<line x1="341.7" y1="190.94" x2="339.30" y2="190.94"/>
<line x1="40.55" y1="189.73" x2="42.95" y2="189.73"/>
<line x1="188.60" y1="189.73" x2="193.40" y2="189.73"/>
<line x1="341.7" y1="189.73" x2="339.30" y2="189.73"/>
<line x1="40.55" y1="188.65" x2="44.35" y2="188.65"/>
<line x1="187.20" y1="188.65" x2="194.80" y2="188.65"/>
<line x1="341.7" y1="188.65" x2="337.90" y2="188.65"/>
<line x1="40.55" y1="181.54" x2="42.95" y2="181.54"/>
<line x1="188.60" y1="181.54" x2="193.40" y2="181.54"/>
<line x1="341.7" y1="181.54" x2="339.30" y2="181.54"/>
<line x1="40.55" y1="177.38" x2="42.95" y2="177.38"/>
<line x1="188.60" y1="177.38" x2="193.40" y2="177.38"/>
<line x1="341.7" y1="177.38" x2="339.30" y2="177.38"/>
<line x1="40.55" y1="174.43" x2="42.95" y2="174.43"/>
<line x1="188.60" y1="174.43" x2="193.40" y2="174.43"/>
<line x1="341.7" y1="174.43" x2="339.30" y2="174.43"/>
<line x1="40.55" y1="172.14" x2="42.95" y2="172.14"/>
<line x1="188.60" y1="172.14" x2="193.40" y2="172.14"/>
<line x1="341.7" y1="172.14" x2="339.30" y2="172.14"/>
<line x1="40.55" y1="170.27" x2="42.95" y2="170.27"/>
<line x1="188.60" y1="170.27" x2="193.40" y2="170.27"/>
<line x1="341.7" y1="170.27" x2="339.30" y2="170.27"/>
<line x1="40.55" y1="168.68" x2="42.95" y2="168.68"/>
<line x1="188.60" y1="168.68" x2="193.40" y2="168.68"/>
<line x1="341.7" y1="168.68" x2="339.30" y2="168.68"/>
<line x1="40.55" y1="167.31" x2="42.95" y2="167.31"/>
<line x1="188.60" y1="167.31" x2="193.40" y2="167.31"/>
<line x1="341.7" y1="167.31" x2="339.30" y2="167.31"/>
<line x1="40.55" y1="166.11" x2="42.95" y2="166.11"/>
<line x1="188.60" y1="166.11" x2="193.40" y2="166.11"/>
<line x1="341.7" y1="166.11" x2="339.30" y2="166.11"/>
<line x1="40.55" y1="165.03" x2="44.35" y2="165.03"/>
<line x1="187.20" y1="165.03" x2="194.80" y2="165.03"/>
<line x1="341.7" y1="165.03" x2="337.90" y2="165.03"/>
<line x1="40.55" y1="157.91" x2="42.95" y2="157.91"/>
<line x1="188.60" y1="157.91" x2="193.40" y2="157.91"/>
<line x1="341.7" y1="157.91" x2="339.30" y2="157.91"/>
<line x1="40.55" y1="153.75" x2="42.95" y2="153.75"/>
<line x1="188.60" y1="153.75" x2="193.40" y2="153.75"/>
<line x1="341.7" y1="153.75" x2="339.30" y2="153.75"/>
<line x1="40.55" y1="150.80" x2="42.95" y2="150.80"/>
<line x1="188.60" y1="150.80" x2="193.40" y2="150.80"/>
<line x1="341.7" y1="150.80" x2="339.30" y2="150.80"/>
<line x1="40.55" y1="148.51" x2="42.95" y2="148.51"/>
<line x1="188.60" y1="148.51" x2="193.40" y2="148.51"/>
<line x1="341.7" y1="148.51" x2="339.30" y2="148.51"/>
<line x1="40.55" y1="146.64" x2="42.95" y2="146.64"/>
<line x1="188.60" y1="146.64" x2="193.40" y2="146.64"/>
<line x1="341.7" y1="146.64" x2="339.30" y2="146.64"/>
<line x1="40.55" y1="145.06" x2="42.95" y2="145.06"/>
<line x1="188.60" y1="145.06" x2="193.40" y2="145.06"/>
<line x1="341.7" y1="145.06" x2="339.30" y2="145.06"/>
<line x1="40.55" y1="143.69" x2="42.95" y2="143.69"/>
<line x1="188.60" y1="143.69" x2="193.40" y2="143.69"/>
<line x1="341.7" y1="143.69" x2="339.30" y2="143.69"/>
<line x1="40.55" y1="142.48" x2="42.95" y2="142.48"/>
<line x1="188.60" y1="142.48" x2="193.40" y2="142.48"/>
<line x1="341.7" y1="142.48" x2="339.30" y2="142.48"/>
<line x1="40.55" y1="141.40" x2="44.35" y2="141.40"/>
<line x1="187.20" y1="141.40" x2="194.80" y2="141.40"/>
<line x1="341.7" y1="141.40" x2="337.90" y2="141.40"/>
<line x1="40.55" y1="134.29" x2="42.95" y2="134.29"/>
<line x1="188.60" y1="134.29" x2="193.40" y2="134.29"/>
<line x1="341.7" y1="134.29" x2="339.30" y2="134.29"/>
<line x1="40.55" y1="130.13" x2="42.95" y2="130.13"/>
<line x1="188.60" y1="130.13" x2="193.40" y2="130.13"/>
<line x1="341.7" y1="130.13" x2="339.30" y2="130.13"/>
<line x1="40.55" y1="127.18" x2="42.95" y2="127.18"/>
<line x1="188.60" y1="127.18" x2="193.40" y2="127.18"/>
<line x1="341.7" y1="127.18" x2="339.30" y2="127.18"/>
<line x1="40.55" y1="124.89" x2="42.95" y2="124.89"/>
<line x1="188.60" y1="124.89" x2="193.40" y2="124.89"/>
<line x1="341.7" y1="124.89" x2="339.30" y2="124.89"/>
<line x1="40.55" y1="123.02" x2="42.95" y2="123.02"/>
<line x1="188.60" y1="123.02" x2="193.40" y2="123.02"/>
<line x1="341.7" y1="123.02" x2="339.30" y2="123.02"/>
<line x1="40.55" y1="121.43" x2="42.95" y2="121.43"/>
<line x1="188.60" y1="121.43" x2="193.40" y2="121.43"/>
<line x1="341.7" y1="121.43" x2="339.30" y2="121.43"/>
<line x1="40.55" y1="120.06" x2="42.95" y2="120.06"/>
<line x1="188.60" y1="120.06" x2="193.40" y2="120.06"/>
<line x1="341.7" y1="120.06" x2="339.30" y2="120.06"/>
<line x1="40.55" y1="118.86" x2="42.95" y2="118.86"/>
<line x1="188.60" y1="118.86" x2="193.40" y2="118.86"/>
<line x1="341.7" y1="118.86" x2="339.30" y2="118.86"/>
</g>
<g fill="#000" stroke="#000" stroke-width="0.1" font-size="10" text-anchor="middle">
<text x="40.55" y="247.7" textLength="11.8" lengthAdjust="spacingAndGlyphs">0.1</text>
<text x="57.44" y="247.7" textLength="11.8" lengthAdjust="spacingAndGlyphs">0.2</text>
<text x="74.33" y="247.7" textLength="11.8" lengthAdjust="spacingAndGlyphs">0.3</text>
<text x="91.22" y="247.7" textLength="11.8" lengthAdjust="spacingAndGlyphs">0.4</text>
<text x="108.11" y="247.7" textLength="11.8" lengthAdjust="spacingAndGlyphs">0.5</text>
<text x="125.00" y="247.7" textLength="11.8" lengthAdjust="spacingAndGlyphs">0.6</text>
<text x="141.89" y="247.7" textLength="11.8" lengthAdjust="spacingAndGlyphs">0.7</text>
<text x="158.78" y="247.7" textLength="11.8" lengthAdjust="spacingAndGlyphs">0.8</text>
<text x="175.67" y="247.7" textLength="11.8" lengthAdjust="spacingAndGlyphs">0.9</text>
<text x="191.00" y="247.7" textLength="11.8" lengthAdjust="spacingAndGlyphs">0.1</text>
<text x="207.74" y="247.7" textLength="11.8" lengthAdjust="spacingAndGlyphs">0.2</text>
<text x="224.49" y="247.7" textLength="11.8" lengthAdjust="spacingAndGlyphs">0.3</text>
<text x="241.23" y="247.7" textLength="11.8" lengthAdjust="spacingAndGlyphs">0.4</text>
<text x="257.98" y="247.7" textLength="11.8" lengthAdjust="spacingAndGlyphs">0.5</text>
<text x="274.72" y="247.7" textLength="11.8" lengthAdjust="spacingAndGlyphs">0.6</text>
<text x="291.47" y="247.7" textLength="11.8" lengthAdjust="spacingAndGlyphs">0.7</text>
<text x="308.21" y="247.7" textLength="11.8" lengthAdjust="spacingAndGlyphs">0.8</text>
<text x="324.96" y="247.7" textLength="11.8" lengthAdjust="spacingAndGlyphs">0.9</text>
<text x="342.10" y="247.7" textLength="11.8" lengthAdjust="spacingAndGlyphs">1.0</text>
</g>
<g fill="#000" stroke="#000" stroke-width="0.12">
<text x="32.3" y="27.30" font-size="9.8" text-anchor="end" textLength="10" lengthAdjust="spacingAndGlyphs">10</text>
<text x="32.5" y="23.90" font-size="6.8" text-anchor="start">0</text>
<text x="29.0" y="50.82" font-size="9.8" text-anchor="end" textLength="10" lengthAdjust="spacingAndGlyphs">10</text>
<text x="29.2" y="47.42" font-size="6.8" text-anchor="start">-1</text>
<text x="29.0" y="74.35" font-size="9.8" text-anchor="end" textLength="10" lengthAdjust="spacingAndGlyphs">10</text>
<text x="29.2" y="70.95" font-size="6.8" text-anchor="start">-2</text>
<text x="29.0" y="97.88" font-size="9.8" text-anchor="end" textLength="10" lengthAdjust="spacingAndGlyphs">10</text>
<text x="29.2" y="94.47" font-size="6.8" text-anchor="start">-3</text>
<text x="29.0" y="121.40" font-size="9.8" text-anchor="end" textLength="10" lengthAdjust="spacingAndGlyphs">10</text>
<text x="29.2" y="118.00" font-size="6.8" text-anchor="start">-4</text>
<text x="32.3" y="144.30" font-size="9.8" text-anchor="end" textLength="10" lengthAdjust="spacingAndGlyphs">10</text>
<text x="32.5" y="140.90" font-size="6.8" text-anchor="start">0</text>
<text x="29.0" y="167.93" font-size="9.8" text-anchor="end" textLength="10" lengthAdjust="spacingAndGlyphs">10</text>
<text x="29.2" y="164.53" font-size="6.8" text-anchor="start">-1</text>
<text x="29.0" y="191.55" font-size="9.8" text-anchor="end" textLength="10" lengthAdjust="spacingAndGlyphs">10</text>
<text x="29.2" y="188.15" font-size="6.8" text-anchor="start">-2</text>
<text x="29.0" y="215.18" font-size="9.8" text-anchor="end" textLength="10" lengthAdjust="spacingAndGlyphs">10</text>
<text x="29.2" y="211.78" font-size="6.8" text-anchor="start">-3</text>
<text x="29.0" y="238.80" font-size="9.8" text-anchor="end" textLength="10" lengthAdjust="spacingAndGlyphs">10</text>
<text x="29.2" y="235.40" font-size="6.8" text-anchor="start">-4</text>
</g>
<text x="115.8" y="260.4" font-size="10.4" text-anchor="middle" stroke="#000" stroke-width="0.15">z</text>
<text x="266.3" y="260.4" font-size="10.4" text-anchor="middle" stroke="#000" stroke-width="0.15">z</text>
<g transform="translate(12.0,58.8) rotate(-90)" fill="#000" stroke="#000" stroke-width="0.12"><text x="-28.2" y="0" font-size="9.2">zD</text><text x="-17.3" y="-4.8" font-size="6.8">h</text><text x="-13.4" y="-6.4" font-size="4.2">+</text><text x="-9.7" y="-4.6" font-size="6.4">+</text><text x="-4.0" y="-4.8" font-size="6.8">h</text><text x="0.4" y="-6.8" font-size="5">-</text><text x="-17.1" y="2.3" font-size="7" textLength="11.7" lengthAdjust="spacingAndGlyphs" stroke="none">q/g</text><text x="3.0" y="0" font-size="9.2" textLength="15.7" lengthAdjust="spacingAndGlyphs">(z,μ</text><text x="19.6" y="-4.6" font-size="5.8">2</text><text x="23.1" y="0" font-size="9.2">)</text></g>
<g transform="translate(12.0,176.6) rotate(-90)" fill="#000" stroke="#000" stroke-width="0.12"><text x="-28.2" y="0" font-size="9.2">zD</text><text x="-17.3" y="-4.8" font-size="6.8">h</text><text x="-13.4" y="-6.4" font-size="4.2">+</text><text x="-9.7" y="-4.6" font-size="6.4">+</text><text x="-4.0" y="-4.8" font-size="6.8">h</text><text x="0.4" y="-6.8" font-size="5">-</text><text x="-17.1" y="2.3" font-size="7" textLength="11.7" lengthAdjust="spacingAndGlyphs" stroke="none">q/g</text><text x="3.0" y="0" font-size="9.2" textLength="15.7" lengthAdjust="spacingAndGlyphs">(z,μ</text><text x="19.6" y="-4.6" font-size="5.8">2</text><text x="23.1" y="0" font-size="9.2">)</text></g>
<rect x="53.1" y="54.4" width="41.70" height="13.90" rx="0" fill="#fff" stroke="#777" stroke-width="0.9"/><g stroke="#000" stroke-width="0.1"><text x="54.300000000000004" y="64.4" font-size="8.4">p</text><text x="58.900000000000006" y="65.60000000000001" font-size="5.2">T</text><text x="63.300000000000004" y="64.4" font-size="8.4" textLength="29.6" lengthAdjust="spacingAndGlyphs">=10GeV</text></g>
<rect x="203.9" y="54.4" width="41.70" height="13.90" rx="0" fill="#fff" stroke="#777" stroke-width="0.9"/><g stroke="#000" stroke-width="0.1"><text x="205.1" y="64.4" font-size="8.4">p</text><text x="209.7" y="65.60000000000001" font-size="5.2">T</text><text x="214.1" y="64.4" font-size="8.4" textLength="29.6" lengthAdjust="spacingAndGlyphs">=10GeV</text></g>
<rect x="53.1" y="209.4" width="41.70" height="13.90" rx="0" fill="#fff" stroke="#777" stroke-width="0.9"/><g stroke="#000" stroke-width="0.1"><text x="54.300000000000004" y="219.4" font-size="8.4">p</text><text x="58.900000000000006" y="220.6" font-size="5.2">T</text><text x="63.300000000000004" y="219.4" font-size="8.4" textLength="29.6" lengthAdjust="spacingAndGlyphs">=50GeV</text></g>
<rect x="203.9" y="209.4" width="41.70" height="13.90" rx="0" fill="#fff" stroke="#777" stroke-width="0.9"/><g stroke="#000" stroke-width="0.1"><text x="205.1" y="219.4" font-size="8.4">p</text><text x="209.7" y="220.6" font-size="5.2">T</text><text x="214.1" y="219.4" font-size="8.4" textLength="29.6" lengthAdjust="spacingAndGlyphs">=50GeV</text></g>
<rect x="155.3" y="8.1" width="23.60" height="13.40" rx="1.1" fill="#fff" stroke="#777" stroke-width="0.9"/><text x="167.10" y="17.90" font-size="8.7" text-anchor="middle" textLength="20.6" lengthAdjust="spacingAndGlyphs">quark</text>
<rect x="306.1" y="8.3" width="24.80" height="13.20" rx="1.1" fill="#fff" stroke="#777" stroke-width="0.9"/><text x="318.50" y="18.10" font-size="8.7" text-anchor="middle" textLength="21.6" lengthAdjust="spacingAndGlyphs">gluon</text>
<rect x="155.3" y="125.4" width="23.60" height="13.60" rx="1.1" fill="#fff" stroke="#777" stroke-width="0.9"/><text x="167.10" y="135.20" font-size="8.7" text-anchor="middle" textLength="20.6" lengthAdjust="spacingAndGlyphs">quark</text>
<rect x="306.1" y="125.6" width="24.80" height="13.40" rx="1.1" fill="#fff" stroke="#777" stroke-width="0.9"/><text x="318.50" y="135.40" font-size="8.7" text-anchor="middle" textLength="21.6" lengthAdjust="spacingAndGlyphs">gluon</text>
<rect x="56.2" y="75.0" width="70.30" height="33.00" fill="#000"/><rect x="53.1" y="72.2" width="69.40" height="32.80" fill="#fff"/><path d="M53.1,105.0 L53.1,72.2 L122.5,72.2" fill="none" stroke="#888" stroke-width="0.8"/><g stroke="#000" stroke-width="0.08"><line x1="53.5" y1="76.7" x2="71.3" y2="76.7" stroke="#3c3cff" stroke-width="1.15"/><text x="73.2" y="79.8" font-size="7.6" textLength="12.6" lengthAdjust="spacingAndGlyphs">KRE</text><text x="95.8" y="79.8" font-size="7.6" fill="#444" stroke="none">μ</text><text x="100.0" y="79.8" font-size="7.6" textLength="18.6" lengthAdjust="spacingAndGlyphs">=1.5p</text><text x="119.0" y="81.3" font-size="5.2">T</text><line x1="53.5" y1="88.1" x2="71.3" y2="88.1" stroke="#ff33ff" stroke-width="1.2" stroke-dasharray="4.8 2.9" stroke-dashoffset="1.4"/><text x="73.2" y="91.19999999999999" font-size="7.6" textLength="12.6" lengthAdjust="spacingAndGlyphs">KKP</text><text x="95.8" y="91.19999999999999" font-size="7.6" fill="#444" stroke="none">μ</text><text x="100.0" y="91.19999999999999" font-size="7.6" textLength="18.6" lengthAdjust="spacingAndGlyphs">=1.5p</text><text x="119.0" y="92.69999999999999" font-size="5.2">T</text><line x1="53.5" y1="99.6" x2="71.3" y2="99.6" stroke="#b01818" stroke-width="0.9" stroke-dasharray="1 3.4"/><text x="73.2" y="102.69999999999999" font-size="7.6" textLength="19.6" lengthAdjust="spacingAndGlyphs">BFGW</text><text x="96.8" y="102.69999999999999" font-size="7.6" fill="#444" stroke="none">μ</text><text x="101.0" y="102.69999999999999" font-size="7.6" textLength="18.6" lengthAdjust="spacingAndGlyphs">=1.5p</text><text x="120.0" y="104.19999999999999" font-size="5.2">T</text></g>
<rect x="207.0" y="75.0" width="72.90" height="33.00" fill="#000"/><rect x="203.9" y="72.2" width="72.00" height="32.80" fill="#fff"/><path d="M203.9,105.0 L203.9,72.2 L275.9,72.2" fill="none" stroke="#888" stroke-width="0.8"/><g stroke="#000" stroke-width="0.08"><line x1="204.3" y1="76.7" x2="222.1" y2="76.7" stroke="#9933ff" stroke-width="1.2" stroke-dasharray="4 2.1 1.2 1.9"/><text x="224.5" y="79.8" font-size="7.6" textLength="18.6" lengthAdjust="spacingAndGlyphs">HKNS</text><text x="249.2" y="79.8" font-size="7.6" fill="#444" stroke="none">μ</text><text x="253.4" y="79.8" font-size="7.6" textLength="18.6" lengthAdjust="spacingAndGlyphs">=1.5p</text><text x="272.4" y="81.3" font-size="5.2">T</text><line x1="204.3" y1="88.1" x2="222.1" y2="88.1" stroke="#ff9426" stroke-width="1.2" stroke-dasharray="4 1.6 1 1.2 1 1.3"/><text x="224.5" y="91.19999999999999" font-size="7.6" textLength="21.5" lengthAdjust="spacingAndGlyphs">AKK08</text><text x="250.1" y="91.19999999999999" font-size="7.6" fill="#444" stroke="none">μ</text><text x="254.3" y="91.19999999999999" font-size="7.6" textLength="18.6" lengthAdjust="spacingAndGlyphs">=1.5p</text><text x="273.3" y="92.69999999999999" font-size="5.2">T</text><line x1="204.3" y1="99.6" x2="222.1" y2="99.6" stroke="#0a8a0a" stroke-width="1.15" stroke-dasharray="2.1 1.35"/><text x="224.5" y="102.69999999999999" font-size="7.6" textLength="12.8" lengthAdjust="spacingAndGlyphs">DSS</text><text x="249.2" y="102.69999999999999" font-size="7.6" fill="#444" stroke="none">μ</text><text x="253.4" y="102.69999999999999" font-size="7.6" textLength="18.6" lengthAdjust="spacingAndGlyphs">=1.5p</text><text x="272.4" y="104.19999999999999" font-size="5.2">T</text></g>
</svg>
</body></html>
